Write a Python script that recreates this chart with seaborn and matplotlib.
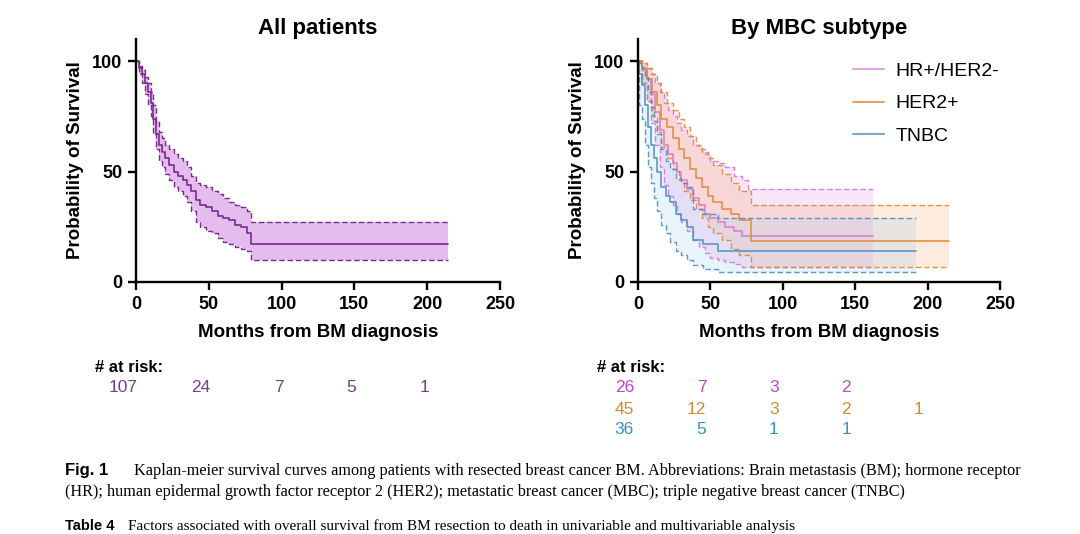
import matplotlib
matplotlib.use("Agg")
import matplotlib.pyplot as plt
import matplotlib.transforms as mtransforms
from matplotlib.lines import Line2D
import pandas as pd
import seaborn as sns

# ---- All patients ----
ALL_T = [0, 2, 4, 6, 8, 10, 12, 14, 16, 18, 20, 23, 26, 29, 32, 35, 38, 41, 44, 48, 52, 56, 60, 64, 68, 72, 76, 79, 214]
ALL_S = [100, 97, 94, 90, 86, 81, 74, 67, 62, 59, 56, 53, 50, 48, 46, 44, 41, 37, 35, 34, 32, 30, 29, 28, 26, 25, 22, 17, 17]
ALL_HI = [100, 98, 96, 93, 90, 86, 80, 73, 68, 65, 62, 60, 58, 56, 55, 52, 48, 45, 44, 43, 41, 40, 38, 36, 35, 34, 32, 27, 27]
ALL_LO = [100, 94, 90, 85, 80, 75, 67, 60, 55, 52, 49, 46, 43, 41, 39, 36, 32, 27, 25, 23, 22, 20, 18, 17, 16, 15, 14, 10, 10]
ALL_RISK = [107, 24, 7, 5, 1]

# ---- By MBC subtype ----
SUBTYPES = ["HR+/HER2-", "HER2+", "TNBC"]

HR_T = [0, 3, 6, 9, 12, 15, 18, 21, 24, 27, 30, 34, 38, 42, 46, 50, 55, 60, 66, 72, 76, 162]
HR_S = [100, 96, 92, 85, 77, 69, 62, 58, 54, 50, 46, 42, 38, 35, 31, 29, 27, 25, 23, 21, 21, 21]
HR_HI = [100, 99, 97, 94, 90, 86, 81, 78, 75, 72, 69, 66, 62, 60, 58, 55, 54, 52, 48, 46, 42, 42]
HR_LO = [100, 90, 82, 72, 62, 52, 44, 39, 35, 31, 27, 23, 19, 16, 13, 11, 10, 9, 8, 7, 6.6, 6.6]

HER2_T = [0, 3, 6, 10, 13, 16, 20, 24, 28, 32, 36, 40, 44, 48, 52, 58, 64, 70, 78, 215]
HER2_S = [100, 97, 92, 86, 80, 74, 70, 65, 60, 56, 51, 47, 43, 39, 36, 33, 31, 28, 18.4, 18.4]
HER2_HI = [100, 99, 97, 94, 90, 86, 81, 78, 74, 70, 66, 62, 59, 56, 53, 49, 45, 41, 35, 35]
HER2_LO = [100, 90, 82, 75, 68, 61, 56, 51, 46, 41, 37, 33, 29, 25, 22, 19, 15, 12, 6.6, 6.6]

TNBC_T = [0, 1, 3, 5, 7, 9, 11, 13, 16, 19, 22, 26, 30, 34, 38, 45, 55, 192]
TNBC_S = [100, 94, 89, 80, 70, 62, 56, 50, 43, 39, 36, 31, 28, 25, 19, 17, 14.2, 14.2]
TNBC_HI = [100, 99, 97, 93, 86, 79, 73, 67, 60, 55, 51, 47, 45, 43, 33, 31, 29, 29]
TNBC_LO = [100, 80, 74, 62, 52, 45, 38, 32, 26, 22, 18, 14, 12, 10, 7.8, 6, 4.5, 4.5]

RISK_HR = [26, 7, 3, 2]
RISK_HER2 = [45, 12, 3, 2, 1]
RISK_TNBC = [36, 5, 1, 1]
RISK_T = [0, 50, 100, 150, 200]

CAPTION_1 = ("Kaplan-meier survival curves among patients with resected breast cancer BM. "
             "Abbreviations: Brain metastasis (BM); hormone receptor")
CAPTION_2 = ("(HR); human epidermal growth factor receptor 2 (HER2); metastatic breast cancer (MBC); "
             "triple negative breast cancer (TNBC)")
TABLE_TXT = ("Factors associated with overall survival from BM resection to death in "
             "univariable and multivariable analysis")

PURPLE = "#7a2a8c"
PURPLE_FILL = "#e0b2ec"
LINE_COLORS = {"HR+/HER2-": "#d47ad4", "HER2+": "#e0883a", "TNBC": "#4a8ec4"}
FILL_COLORS = {"HR+/HER2-": "#e68ae6", "HER2+": "#f7a868", "TNBC": "#9ccaee"}
TEXT_COLORS = {"HR+/HER2-": "#c844c8", "HER2+": "#d98a2c", "TNBC": "#3a90c6"}
LEGEND_COLORS = {"HR+/HER2-": "#e0a6e0", "HER2+": "#e2a466", "TNBC": "#78aac8"}

W, H = 1080, 534


def draw_km(ax, t, s, lo, hi, line_color, fill_color, fill_alpha, lw, dash_lw, line_alpha=1.0):
    df = pd.DataFrame({"t": t, "s": s, "lo": lo, "hi": hi})
    ax.fill_between(df["t"], df["lo"], df["hi"], step="post",
                    color=fill_color, alpha=fill_alpha, lw=0)
    for col, ls, w in [("lo", (0, (4, 2)), dash_lw), ("hi", (0, (4, 2)), dash_lw), ("s", "-", lw)]:
        sns.lineplot(df, x="t", y=col, ax=ax, color=line_color, lw=w, linestyle=ls,
                     drawstyle="steps-post", estimator=None, alpha=line_alpha, legend=False)


def style_axes(ax, title):
    ax.set_xlim(0, 250)
    ax.set_ylim(0, 110)
    ax.set_xticks([0, 50, 100, 150, 200, 250])
    ax.set_yticks([0, 50, 100])
    ax.set_title(title, fontsize=16, fontweight="bold", pad=3)
    ax.set_xlabel("Months from BM diagnosis", fontsize=13.5, fontweight="bold", labelpad=8)
    ax.set_ylabel("Probability of Survival", fontsize=13.5, fontweight="bold", labelpad=6)
    for lab in ax.get_xticklabels() + ax.get_yticklabels():
        lab.set_fontweight("bold")
    ax.tick_params(labelsize=13, width=1.7, length=6, color="black", labelcolor="black", pad=4)
    sns.despine(ax=ax)
    for sp in ("left", "bottom"):
        ax.spines[sp].set_linewidth(1.7)
        ax.spines[sp].set_color("black")


def risk_row(fig, ax, counts, ypx, color, dx):
    trans = mtransforms.blended_transform_factory(ax.transData, fig.transFigure)
    trans = mtransforms.offset_copy(trans, fig=fig, x=dx, y=0, units="dots")
    for x, n in zip(RISK_T, counts):
        fig.text(x, 1 - ypx / H, str(n), transform=trans, ha="right", va="center",
                 fontsize=12.5, color=color)


def main():
    sns.set_theme(style="ticks")
    plt.rcParams["font.family"] = ["Liberation Sans", "DejaVu Sans"]
    plt.rcParams["text.color"] = "black"
    plt.rcParams["axes.labelcolor"] = "black"

    fig = plt.figure(figsize=(W / 100, H / 100), dpi=100)
    fig.patch.set_facecolor("white")

    ax1 = fig.add_axes([136 / W, 1 - 282 / H, 364 / W, 243 / H])
    ax2 = fig.add_axes([638 / W, 1 - 282 / H, 362 / W, 243 / H])

    draw_km(ax1, ALL_T, ALL_S, ALL_LO, ALL_HI, PURPLE, PURPLE_FILL, 0.85, 1.2, 1.0)
    style_axes(ax1, "All patients")

    groups = {
        "HR+/HER2-": (HR_T, HR_S, HR_LO, HR_HI),
        "HER2+": (HER2_T, HER2_S, HER2_LO, HER2_HI),
        "TNBC": (TNBC_T, TNBC_S, TNBC_LO, TNBC_HI),
    }
    for name in SUBTYPES:
        t, s, lo, hi = groups[name]
        draw_km(ax2, t, s, lo, hi, LINE_COLORS[name], FILL_COLORS[name], 0.22, 1.2, 1.0, 0.9)
    style_axes(ax2, "By MBC subtype")

    handles = [Line2D([0], [0], color=LEGEND_COLORS[n], lw=1.5) for n in SUBTYPES]
    ax2.legend(handles, SUBTYPES, loc="upper left", bbox_to_anchor=(0.545, 0.975),
               frameon=False, fontsize=14, handlelength=1.6, handletextpad=0.6,
               labelspacing=0.75)

    # numbers at risk
    fig.text(95 / W, 1 - 368 / H, "# at risk:", ha="left", va="center",
             fontsize=12, fontweight="bold")
    risk_row(fig, ax1, ALL_RISK, 388, "#7b3a92", 2)

    fig.text(597 / W, 1 - 368 / H, "# at risk:", ha="left", va="center",
             fontsize=12, fontweight="bold")
    risk_row(fig, ax2, RISK_HR, 388, TEXT_COLORS["HR+/HER2-"], -4)
    risk_row(fig, ax2, RISK_HER2, 409, TEXT_COLORS["HER2+"], -4)
    risk_row(fig, ax2, RISK_TNBC, 430, TEXT_COLORS["TNBC"], -4)

    # caption
    fig.text(65 / W, 1 - 471 / H, "Fig. 1", ha="left", va="center", fontsize=12,
             fontweight="bold", family=["Liberation Sans"])
    fig.text(134 / W, 1 - 471 / H, CAPTION_1, ha="left", va="center", fontsize=11.7,
             family=["Liberation Serif"])
    fig.text(65 / W, 1 - 492 / H, CAPTION_2, ha="left", va="center", fontsize=11.7,
             family=["Liberation Serif"])
    fig.text(65 / W, 1 - 533 / H, "Table 4", ha="left", va="bottom", fontsize=10.5,
             fontweight="bold", family=["Liberation Sans"])
    fig.text(128 / W, 1 - 533 / H, TABLE_TXT, ha="left", va="bottom", fontsize=11,
             family=["Liberation Serif"])

    fig.savefig("out.png", dpi=100, facecolor="white")


if __name__ == "__main__":
    main()
